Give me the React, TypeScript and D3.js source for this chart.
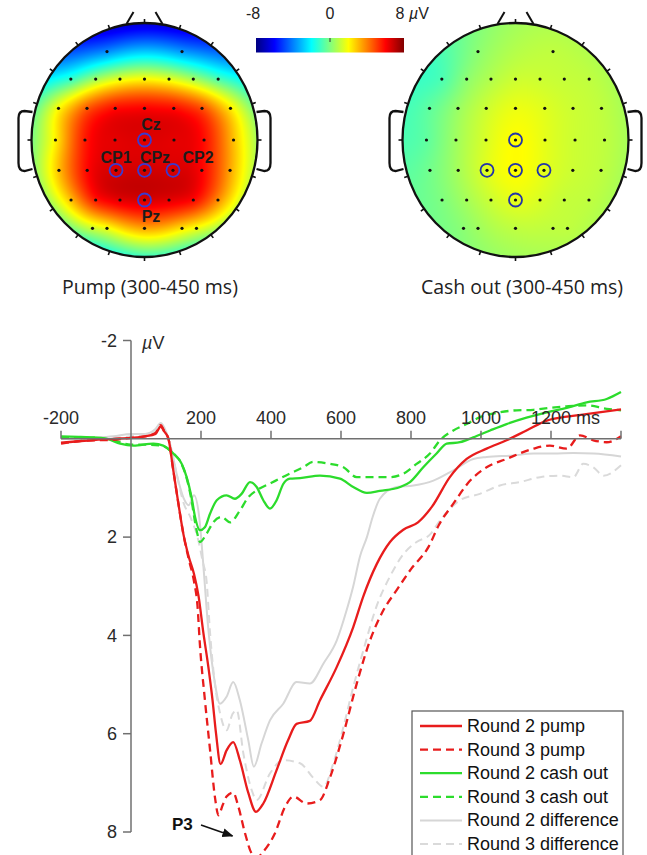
import { useMemo } from "react"
import * as d3 from "d3"

type Pt = [number, number]

// ERP waveforms: [time (ms), amplitude (µV)]
const round2Pump: Pt[] = [
  [-200, 0.08], [-150, 0.05], [-100, 0.02], [-50, 0.0], [0, -0.02], [40, -0.05], [70, -0.1], [85, -0.25], [95, -0.15],
  [107, 0.0], [120, 0.6], [135, 1.3], [150, 1.95], [165, 2.4], [180, 2.75], [193, 3.2], [207, 3.96], [221, 4.64],
  [233, 5.32], [243, 6.0], [256, 6.62], [273, 6.34], [292, 6.17], [311, 6.54], [335, 7.2], [357, 7.59], [378, 7.42],
  [416, 6.74], [449, 6.13], [473, 5.8], [511, 5.74], [540, 5.32], [588, 4.64], [635, 3.83], [664, 3.2], [702, 2.55],
  [740, 2.1], [778, 1.85], [820, 1.7], [860, 1.38], [911, 0.78], [959, 0.41], [1016, 0.2], [1073, 0.03],
  [1130, -0.17], [1188, -0.37], [1245, -0.45], [1311, -0.51], [1400, -0.6],
]
const round3Pump: Pt[] = [
  [-200, 0.1], [-150, 0.05], [-100, 0.03], [-50, 0.02], [0, -0.02], [40, -0.05], [70, -0.12], [85, -0.28], [95, -0.15],
  [107, 0.0], [120, 0.6], [135, 1.3], [150, 1.95], [165, 2.45], [180, 2.9], [190, 3.4], [197, 4.2], [211, 5.3],
  [226, 6.34], [240, 7.3], [250, 7.66], [262, 7.45], [273, 7.28], [292, 7.2], [307, 7.49], [326, 8.03], [345, 8.44],
  [360, 8.52], [378, 8.4], [411, 8.03], [440, 7.49], [464, 7.28], [502, 7.42], [540, 7.35], [569, 6.88], [607, 6.0],
  [645, 4.98], [683, 4.1], [721, 3.49], [759, 3.08], [800, 2.65], [850, 2.2], [880, 1.75], [921, 1.32], [969, 0.85],
  [1016, 0.58], [1073, 0.41], [1150, 0.2], [1197, 0.14], [1245, 0.2], [1283, -0.07], [1321, 0.03], [1359, 0.07],
  [1400, -0.05],
]
const round2CashOut: Pt[] = [
  [-200, -0.05], [-150, -0.04], [-117, -0.03], [-69, 0.0], [-31, 0.1], [7, 0.14], [64, 0.1], [92, 0.14], [121, 0.3],
  [145, 0.51], [159, 0.78], [173, 1.19], [183, 1.59], [197, 1.86], [211, 1.8], [226, 1.52], [245, 1.25], [273, 1.15],
  [297, 1.22], [316, 1.12], [340, 0.88], [359, 0.98], [378, 1.25], [397, 1.42], [416, 1.25], [435, 0.92], [454, 0.81],
  [483, 0.8], [540, 0.75], [597, 0.81], [635, 0.98], [674, 1.1], [711, 1.06], [769, 0.98], [797, 0.88], [835, 0.58],
  [873, 0.3], [902, 0.1], [940, 0.07], [978, -0.03], [1026, -0.17], [1073, -0.3], [1130, -0.43], [1188, -0.54],
  [1245, -0.63], [1302, -0.74], [1359, -0.81], [1400, -0.95],
]
const round3CashOut: Pt[] = [
  [-200, -0.03], [-150, -0.03], [-100, -0.02], [-50, 0.03], [0, 0.12], [50, 0.12], [92, 0.15], [121, 0.3],
  [145, 0.52], [159, 0.8], [173, 1.25], [183, 1.7], [192, 2.0], [197, 2.1], [216, 1.93], [235, 1.7], [259, 1.59],
  [283, 1.7], [311, 1.46], [335, 1.19], [359, 1.05], [400, 0.9], [450, 0.72], [492, 0.58], [521, 0.47], [569, 0.51],
  [607, 0.58], [645, 0.78], [693, 0.78], [740, 0.78], [778, 0.71], [816, 0.51], [854, 0.3], [883, 0.03],
  [921, -0.17], [959, -0.3], [997, -0.44], [1054, -0.54], [1102, -0.58], [1150, -0.59], [1197, -0.63],
  [1245, -0.66], [1302, -0.68], [1359, -0.61], [1400, -0.58],
]
const round2Diff: Pt[] = [
  [-200, 0.0], [-150, 0.0], [-100, -0.02], [-50, -0.05], [0, -0.1], [40, -0.1], [70, -0.2], [85, -0.32], [100, -0.15],
  [115, 0.2], [130, 0.7], [150, 1.2], [165, 1.35], [180, 1.15], [195, 1.6], [207, 2.6], [220, 3.8], [240, 4.98],
  [254, 5.39], [273, 5.25], [292, 4.95], [311, 5.32], [335, 6.13], [351, 6.67], [373, 6.2], [397, 5.73], [435, 5.39],
  [473, 4.95], [511, 4.98], [550, 4.57], [588, 4.1], [616, 3.49], [635, 3.0], [654, 2.4], [674, 2.0], [690, 1.6],
  [711, 1.22], [759, 0.98], [807, 0.95], [864, 0.85], [921, 0.64], [978, 0.41], [1016, 0.37], [1092, 0.34],
  [1150, 0.3], [1207, 0.3], [1264, 0.29], [1321, 0.3], [1400, 0.36],
]
const round3Diff: Pt[] = [
  [-200, 0.0], [-100, 0.0], [0, -0.05], [70, -0.15], [85, -0.25], [100, -0.1], [115, 0.2], [130, 0.7], [150, 1.3],
  [170, 1.6], [190, 2.0], [205, 2.5], [216, 2.9], [226, 3.96], [240, 5.0], [255, 5.6], [273, 5.93], [290, 5.6],
  [302, 5.52], [321, 6.4], [345, 7.15], [359, 7.35], [397, 6.81], [435, 6.54], [483, 6.6], [521, 6.9], [550, 7.08],
  [578, 6.6], [607, 5.86], [635, 5.05], [664, 4.3], [702, 3.4], [740, 2.8], [778, 2.35], [816, 2.1], [854, 1.95],
  [883, 1.66], [940, 1.25], [997, 1.12], [1054, 0.95], [1111, 0.88], [1169, 0.78], [1226, 0.75], [1264, 0.78],
  [1292, 0.51], [1321, 0.58], [1350, 0.75], [1400, 0.54],
]

const seriesNames = [
  "Round 2 pump", "Round 3 pump", "Round 2 cash out", "Round 3 cash out", "Round 2 difference", "Round 3 difference",
]

const xTicks = [-200, 200, 400, 600, 800, 1000, 1200, 1400]
const xTickLabels = ["-200", "200", "400", "600", "800", "1000", "1200 ms", ""]
const yTicks = [-2, 2, 4, 6, 8]
const colorbarTicks = ["-8", "0", "8"]

// electrode montage, normalised to the head radius, rows front to back
const montageRowY = [-0.756, -0.521, -0.271, 0, 0.259, 0.513, 0.755]
const montageRowX = [
  [-0.332, 0.332],
  [-0.652, -0.432, -0.217, 0, 0.217, 0.432, 0.652],
  [-0.761, -0.509, -0.259, 0, 0.259, 0.509, 0.761],
  [-0.788, -0.527, -0.261, 0, 0.261, 0.527, 0.788],
  [-0.757, -0.507, -0.252, 0, 0.252, 0.507, 0.757],
  [-0.65, -0.432, -0.217, 0, 0.217, 0.432, 0.65],
  [-0.46, -0.332, 0, 0.332, 0.46],
]
// amplitude (µV) at each electrode, 300-450 ms
const pumpMap = [
  [-3.8, -3.6],
  [-1.2, 0.5, 1.6, 2.0, 1.6, 0.6, -0.8],
  [2.0, 4.6, 5.8, 6.0, 5.8, 4.8, 2.3],
  [2.2, 5.6, 6.4, 6.5, 6.4, 5.8, 3.0],
  [3.0, 5.9, 6.6, 6.7, 6.6, 6.0, 3.4],
  [3.0, 5.6, 6.4, 6.6, 6.4, 5.9, 3.8],
  [1.2, 1.8, 3.4, 2.4, 1.8],
]
const cashOutMap = [
  [0.2, 1.0],
  [-0.8, 0.2, 0.8, 1.2, 1.2, 1.1, 1.0],
  [-0.5, 0.4, 1.2, 1.7, 1.5, 1.2, 1.0],
  [-0.5, 0.5, 1.4, 2.0, 1.6, 1.2, 1.0],
  [-0.2, 0.6, 1.5, 2.0, 1.6, 1.2, 1.0],
  [0.0, 0.6, 1.2, 1.6, 1.4, 1.1, 1.0],
  [0.2, 0.5, 1.0, 1.0, 1.0],
]
// [row, column] of the circled electrodes: Cz, CP1, CPz, CP2, Pz
const highlighted = [[3, 3], [4, 2], [4, 3], [4, 4], [5, 3]]
const highlightedNames = ["Cz", "CP1", "CPz", "CP2", "Pz"]

const RED = "#e81c1c"
const GREEN = "#2cdc2c"
const GRAY = "#d6d6d6"
const GRAY2 = "#dadada"
const FONT = "'Liberation Sans', Arial, sans-serif"

const RX = 113
const RY = 117

function jet(t: number): [number, number, number] {
  const c = (v: number) => Math.max(0, Math.min(1, v))
  return [c(1.5 - Math.abs(4 * t - 3)), c(1.5 - Math.abs(4 * t - 2)), c(1.5 - Math.abs(4 * t - 1))]
}

const jetScale = d3
  .scaleSequential((t: number) => {
    const [r, g, b] = jet(t)
    return d3.rgb(r * 255, g * 255, b * 255).formatHex()
  })
  .domain([-8, 8])

function solveLinear(A: number[][], b: number[]) {
  const n = b.length
  const M = A.map((row, i) => [...row, b[i]])
  for (let k = 0; k < n; k++) {
    let p = k
    for (let i = k + 1; i < n; i++) if (Math.abs(M[i][k]) > Math.abs(M[p][k])) p = i
    const tmp = M[k]
    M[k] = M[p]
    M[p] = tmp
    for (let i = k + 1; i < n; i++) {
      const f = M[i][k] / M[k][k]
      for (let j = k; j <= n; j++) M[i][j] -= f * M[k][j]
    }
  }
  const x = new Array(n).fill(0)
  for (let i = n - 1; i >= 0; i--) {
    let s = M[i][n]
    for (let j = i + 1; j < n; j++) s -= M[i][j] * x[j]
    x[i] = s / M[i][i]
  }
  return x
}

// biharmonic spline (like matlab griddata v4)
const green = (d: number) => (d === 0 ? 0 : d * d * (Math.log(d) - 1))

function renderMap(values: number[][]) {
  const pts = montageRowX.flatMap((row, r) => row.map((x) => [x, montageRowY[r]]))
  const vals = values.flat()
  const G = pts.map((p) => pts.map((q) => green(Math.hypot(p[0] - q[0], p[1] - q[1]))))
  const w = solveLinear(G, vals)
  const W = Math.ceil(2 * RX) + 4
  const H = Math.ceil(2 * RY) + 4
  const canvas = document.createElement("canvas")
  canvas.width = W
  canvas.height = H
  const ctx = canvas.getContext("2d")!
  const img = ctx.createImageData(W, H)
  for (let j = 0; j < H; j++) {
    for (let i = 0; i < W; i++) {
      const nx = (i + 0.5 - W / 2) / RX
      const ny = (j + 0.5 - H / 2) / RY
      if (nx * nx + ny * ny > 1.05) continue
      let v = 0
      for (let k = 0; k < pts.length; k++) v += w[k] * green(Math.hypot(nx - pts[k][0], ny - pts[k][1]))
      const [r, g, b] = jet(Math.max(0, Math.min(1, (v + 8) / 16)))
      const o = (j * W + i) * 4
      img.data[o] = r * 255
      img.data[o + 1] = g * 255
      img.data[o + 2] = b * 255
      img.data[o + 3] = 255
    }
  }
  ctx.putImageData(img, 0, 0)
  return { href: canvas.toDataURL(), W, H }
}

function Topomap({ id, cx, cy, values, ring, names }: {
  id: string; cx: number; cy: number; values: number[][]; ring: string; names: boolean
}) {
  const map = useMemo(() => renderMap(values), [values])
  const ex = d3.scaleLinear().domain([-1, 1]).range([cx - RX, cx + RX])
  const ey = d3.scaleLinear().domain([-1, 1]).range([cy - RY, cy + RY])
  const hashAngles = d3.range(0, 360, 18)
  const ear = (s: number) => {
    const x0 = cx + s * (RX - 1)
    const x1 = cx + s * (RX + 13)
    return `M${x0},${cy - 28} L${x1 - s * 6},${cy - 29} Q${x1},${cy - 29} ${x1},${cy - 22} L${x1},${cy + 23} Q${x1},${cy + 31} ${x1 - s * 6},${cy + 31} L${x0},${cy + 29}`
  }
  // label anchor offsets from the head centre
  const labelPos: Pt[] = [[6.5, -10], [-28.5, 23], [10.5, 23], [53.5, 23], [6.5, 82]]
  const noseTop = cy - RY - 11
  return (
    <g>
      <defs>
        <clipPath id={id}>
          <ellipse cx={cx} cy={cy} rx={RX} ry={RY} />
        </clipPath>
      </defs>
      <image href={map.href} x={cx - map.W / 2} y={cy - map.H / 2} width={map.W} height={map.H} clipPath={`url(#${id})`} />
      <g fill="none" stroke="#111" strokeWidth={2.3}>
        <ellipse cx={cx} cy={cy} rx={RX} ry={RY} />
        {/* truncated nose */}
        <line x1={cx - 18} y1={cy - RY + 1} x2={cx - 11} y2={noseTop} strokeWidth={2} />
        <line x1={cx + 18} y1={cy - RY + 1} x2={cx + 11} y2={noseTop} strokeWidth={2} />
        <path d={ear(-1)} />
        <path d={ear(1)} />
        {hashAngles.map((a) => {
          const t = (a * Math.PI) / 180
          return (
            <line key={a} x1={cx + RX * Math.cos(t)} y1={cy + RY * Math.sin(t)}
              x2={cx + (RX + 4) * Math.cos(t)} y2={cy + (RY + 4) * Math.sin(t)} strokeWidth={1.6} />
          )
        })}
      </g>
      {montageRowX.map((row, r) =>
        row.map((x, c) => <circle key={`${r}-${c}`} cx={ex(x)} cy={ey(montageRowY[r])} r={1.6} fill="#111" />)
      )}
      {highlighted.map(([r, c]) => (
        <circle key={`h${r}-${c}`} cx={ex(montageRowX[r][c])} cy={ey(montageRowY[r])} r={6.5}
          fill="none" stroke={ring} strokeWidth={1.8} />
      ))}
      {names &&
        highlightedNames.map((name, i) => (
          <text key={name} x={cx + labelPos[i][0]} y={cy + labelPos[i][1]}
            textAnchor="middle" fontFamily={FONT} fontWeight="bold" fontSize={16} fill="#1c1c1c">
            {name}
          </text>
        ))}
    </g>
  )
}

export default function App() {
  const x = d3.scaleLinear().domain([-200, 1400]).range([61, 621])
  const y = d3.scaleLinear().domain([-2, 8]).range([340.5, 832])
  const line = d3
    .line<Pt>()
    .x((d) => x(d[0]))
    .y((d) => y(d[1]))
    .curve(d3.curveMonotoneX)

  const series = [
    { data: round2Pump, color: RED, dash: undefined, w: 2.3 },
    { data: round3Pump, color: RED, dash: "8,5", w: 2.3 },
    { data: round2CashOut, color: GREEN, dash: undefined, w: 2.3 },
    { data: round3CashOut, color: GREEN, dash: "8,5", w: 2.3 },
    { data: round2Diff, color: GRAY, dash: undefined, w: 2 },
    { data: round3Diff, color: GRAY2, dash: "8,5", w: 2 },
  ]
  const drawOrder = [4, 5, 2, 3, 0, 1]
  const x0 = x(0)
  const y0 = y(0)

  const cb = d3.scaleLinear().domain([-8, 8]).range([256, 404])
  const cbStops = d3.range(0, 1.0001, 1 / 32)

  const legendX = 412
  const legendY = 711
  const rowY = (i: number) => 726 + i * 23.6

  return (
    <div style={{ position: "absolute", left: 0, top: 0 }}>
      <svg width={647} height={855} style={{ display: "block", background: "#fff" }}>
        <defs>
          <linearGradient id="jet" x1="0" x2="1" y1="0" y2="0">
            {cbStops.map((t) => (
              <stop key={t} offset={t} stopColor={jetScale(-8 + 16 * t)} />
            ))}
          </linearGradient>
          <marker id="arrow" viewBox="0 0 10 10" refX="9" refY="5" markerWidth="7" markerHeight="7" orient="auto">
            <path d="M0,1 L10,5 L0,9 z" fill="#111" />
          </marker>
        </defs>

        {/* topographic maps */}
        <Topomap id="headL" cx={144.5} cy={140} values={pumpMap} ring="#3a3ad0" names={true} />
        <Topomap id="headR" cx={515.5} cy={140} values={cashOutMap} ring="#2233aa" names={false} />
        <text x={150} y={294} textAnchor="middle" fontFamily="'Open Sans', sans-serif" fontSize={19.5} fill="#222">
          Pump (300-450 ms)
        </text>
        <text x={522} y={294} textAnchor="middle" fontFamily="'Open Sans', sans-serif" fontSize={19.5} fill="#222">
          Cash out (300-450 ms)
        </text>

        {/* colour bar */}
        <rect x={cb(-8)} y={38} width={cb(8) - cb(-8)} height={14.5} fill="url(#jet)" />
        <line x1={cb(0)} x2={cb(0)} y1={38} y2={42} stroke="#333" strokeWidth={1} />
        {colorbarTicks.map((t) => (
          <text key={t} x={cb(+t) + (t === "-8" ? -3 : t === "8" ? -4 : 0)} y={19} textAnchor="middle"
            fontFamily={FONT} fontSize={16} fill="#222">
            {t}
          </text>
        ))}
        <text x={cb(8) + 5} y={19} fontFamily={FONT} fontSize={16} fill="#222">
          <tspan fontStyle="italic">µ</tspan>V
        </text>

        {/* waveforms */}
        {drawOrder.map((i) => (
          <path key={i} d={line(series[i].data) ?? ""} fill="none" stroke={series[i].color}
            strokeWidth={series[i].w} strokeDasharray={series[i].dash} strokeLinejoin="round" />
        ))}

        {/* axes */}
        <g stroke="#707070" strokeWidth={1.5} fill="none">
          <line x1={x(-200)} x2={x(1400)} y1={y0} y2={y0} />
          <line x1={x0} x2={x0} y1={y(-2)} y2={y(8)} />
          {xTicks.map((t) => (
            <line key={t} x1={x(t)} x2={x(t)} y1={y0} y2={y0 - 8} />
          ))}
          {yTicks.map((t) => (
            <line key={t} x1={x0 - 8} x2={x0} y1={y(t)} y2={y(t)} />
          ))}
        </g>
        <g fontFamily={FONT} fontSize={18} fill="#2a2a2a">
          {xTicks.map((t, i) =>
            xTickLabels[i] === "" ? null : (
              <text key={t} x={t === 1200 ? x(t) - 20 : x(t)} y={y0 - 15} textAnchor={t === 1200 ? "start" : "middle"}>
                {xTickLabels[i]}
              </text>
            )
          )}
          {yTicks.map((t) => (
            <text key={t} x={x0 - 14} y={y(t)} dy="0.35em" textAnchor="end">
              {t}
            </text>
          ))}
          <text x={x0 + 11} y={y(-2) + 8}>
            <tspan fontStyle="italic">µ</tspan>V
          </text>
        </g>

        {/* P3 annotation */}
        <text x={172} y={830} fontFamily={FONT} fontWeight="bold" fontSize={17} fill="#111">
          P3
        </text>
        <line x1={x(200)} y1={825} x2={x(290)} y2={836} stroke="#111" strokeWidth={1.6} markerEnd="url(#arrow)" />

        {/* legend */}
        <rect x={legendX} y={legendY} width={211} height={170} fill="#fff" stroke="#555" strokeWidth={1.2} />
        {seriesNames.map((name, i) => (
          <g key={name}>
            <line x1={legendX + 8} x2={legendX + 50} y1={rowY(i)} y2={rowY(i)} stroke={series[i].color}
              strokeWidth={series[i].w} strokeDasharray={series[i].dash} />
            <text x={legendX + 55} y={rowY(i) + 6} fontFamily={FONT} fontSize={18} fill="#111">
              {name}
            </text>
          </g>
        ))}
      </svg>
    </div>
  )
}
